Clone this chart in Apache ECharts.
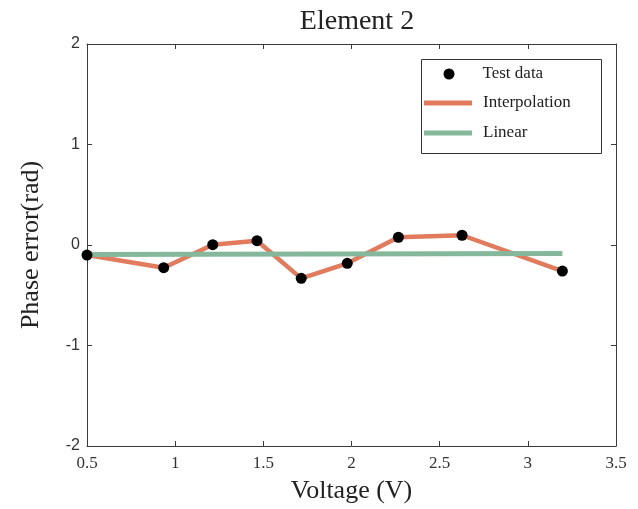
<!DOCTYPE html>
<html>
<head>
<meta charset="utf-8">
<script src="https://cdn.jsdelivr.net/npm/echarts@6/dist/echarts.min.js"></script>
<style>html,body{margin:0;padding:0;background:#fff}#c{width:638px;height:509px}</style>
</head>
<body>
<div id="c"></div>
<script>
// ---- data ----
const voltage = [0.5, 0.935, 1.213, 1.464, 1.715, 1.976, 2.266, 2.627, 3.196];
const phaseErr = [-0.10, -0.226, 0.003, 0.043, -0.332, -0.182, 0.077, 0.097, -0.259];
const linearX = [0.5, 3.196];
const linearY = [-0.095, -0.085];
const xTickLabels = ['0.5', '1', '1.5', '2', '2.5', '3', '3.5'];
const yTickLabels = ['-2', '-1', '0', '1', '2'];
const seriesNames = ['Test data', 'Interpolation', 'Linear'];

const SERIF = '"Liberation Serif", "DejaVu Serif", "Times New Roman", serif';
const SANS = '"Liberation Sans", Arial, sans-serif';
const AX = '#3a3a3a';
const ORANGE = '#E27A5C';
const GREEN = '#85B89B';

const zip = (a, b) => a.map((v, i) => [v, b[i]]);

const chart = echarts.init(document.getElementById('c'), null, {renderer: 'canvas'});

const baseAxisLine = {show: true, onZero: false, lineStyle: {color: AX, width: 1}};
const ticks = {show: true, inside: true, length: 5, lineStyle: {color: AX, width: 1}};

chart.setOption({
  backgroundColor: '#fff',
  animation: false,
  title: {
    text: 'Element 2',
    left: 352, textAlign: 'center', top: 3,
    textStyle: {fontFamily: SERIF, fontSize: 28, fontWeight: 'normal', color: '#222'}
  },
  grid: {left: 87, right: 22, top: 44, bottom: 63, containLabel: false},
  xAxis: [{
    type: 'value', min: 0.5, max: 3.5, interval: 0.5, position: 'bottom',
    axisLine: baseAxisLine, axisTick: ticks, splitLine: {show: false},
    axisLabel: {
      fontFamily: SERIF, fontSize: 17, color: '#333', margin: 9,
      formatter: (v) => xTickLabels[Math.round((v - 0.5) / 0.5)]
    },
    name: 'Voltage (V)', nameLocation: 'middle', nameGap: 32,
    nameTextStyle: {fontFamily: SERIF, fontSize: 26, color: '#222'}
  }, {
    type: 'value', min: 0.5, max: 3.5, interval: 0.5, position: 'top',
    axisLine: baseAxisLine, axisTick: ticks, axisLabel: {show: false}, splitLine: {show: false}
  }],
  yAxis: [{
    type: 'value', min: -2, max: 2, interval: 1, position: 'left',
    axisLine: baseAxisLine, axisTick: ticks, splitLine: {show: false},
    axisLabel: {
      fontFamily: SANS, fontSize: 16, color: '#333', margin: 7,
      formatter: (v) => yTickLabels[Math.round(v + 2)]
    },
    name: 'Phase error(rad)', nameLocation: 'middle', nameGap: 43,
    nameTextStyle: {fontFamily: SERIF, fontSize: 26, color: '#222'}
  }, {
    type: 'value', min: -2, max: 2, interval: 1, position: 'right',
    axisLine: baseAxisLine, axisTick: ticks, axisLabel: {show: false}, splitLine: {show: false}
  }],
  legend: [{
    data: [{name: seriesNames[0], icon: 'circle'}],
    selectedMode: false, left: 443.5, top: 64, itemWidth: 11, itemHeight: 11,
    padding: 0,
    textStyle: {fontFamily: SERIF, fontSize: 17, color: '#222', lineHeight: 20, padding: [0, 0, 0, 23]}
  }, {
    data: [{name: seriesNames[1], icon: 'rect'}],
    selectedMode: false, left: 424, top: 93, itemWidth: 48, itemHeight: 5,
    padding: 0,
    textStyle: {fontFamily: SERIF, fontSize: 17, color: '#222', lineHeight: 20, padding: [0, 0, 0, 6]}
  }, {
    data: [{name: seriesNames[2], icon: 'rect'}],
    selectedMode: false, left: 424, top: 123, itemWidth: 48, itemHeight: 5,
    padding: 0,
    textStyle: {fontFamily: SERIF, fontSize: 17, color: '#222', lineHeight: 20, padding: [0, 0, 0, 6]}
  }],
  graphic: [{
    type: 'rect', left: 419, top: 57, z: 100,
    shape: {width: 180, height: 94},
    style: {fill: 'none', stroke: '#333', lineWidth: 1}
  }],
  series: [{
    name: seriesNames[1], type: 'line', data: zip(voltage, phaseErr),
    showSymbol: false, symbol: 'none', z: 2,
    lineStyle: {color: ORANGE, width: 4.5}, itemStyle: {color: ORANGE}
  }, {
    name: seriesNames[2], type: 'line', data: zip(linearX, linearY),
    showSymbol: false, symbol: 'none', z: 3,
    lineStyle: {color: GREEN, width: 5}, itemStyle: {color: GREEN}
  }, {
    name: seriesNames[0], type: 'scatter', data: zip(voltage, phaseErr),
    symbol: 'circle', symbolSize: 11, z: 4,
    itemStyle: {color: '#000', opacity: 1}
  }]
});
</script>
</body>
</html>
